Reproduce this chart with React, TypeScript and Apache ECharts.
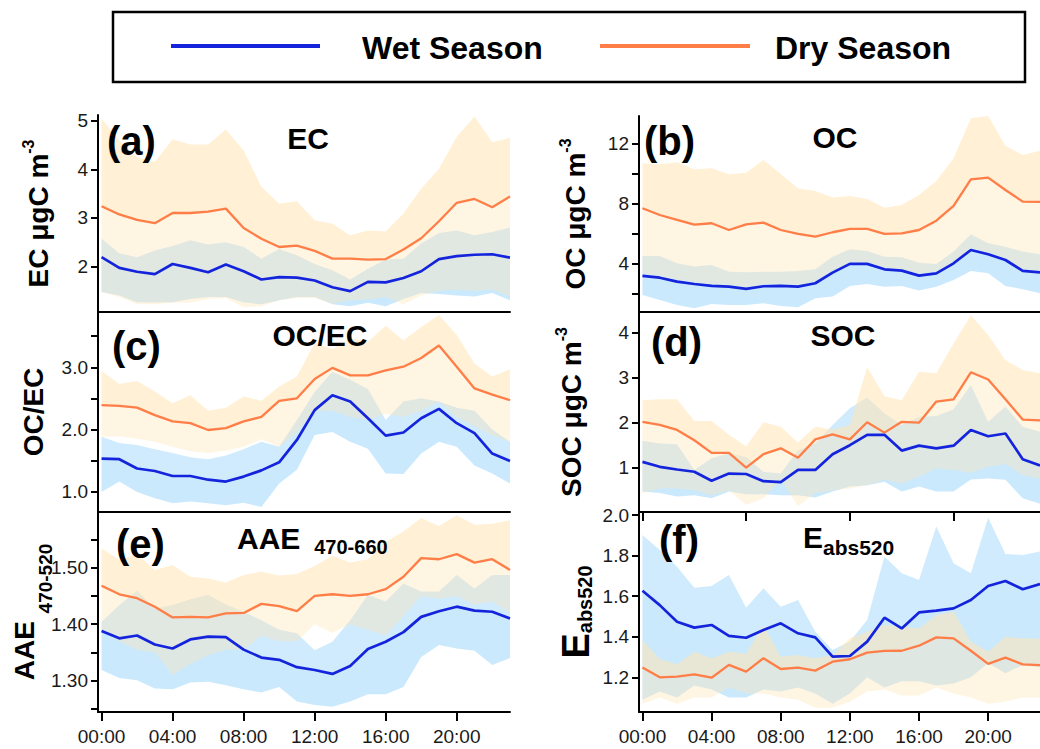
import React, { useEffect, useRef } from 'react';
import * as echarts from 'echarts';

// ---------- data ----------
const HOURS = [0, 1, 2, 3, 4, 5, 6, 7, 8, 9, 10, 11, 12, 13, 14, 15, 16, 17, 18, 19, 20, 21, 22, 23];
const X_LABEL_HOURS = [0, 4, 8, 12, 16, 20];

// (a) EC
const ecWet = [2.19, 1.97, 1.89, 1.84, 2.05, 1.97, 1.88, 2.04, 1.90, 1.73, 1.78, 1.77, 1.71, 1.57, 1.49, 1.68, 1.67, 1.76, 1.90, 2.15, 2.21, 2.24, 2.25, 2.18];
const ecWetHi = [2.57, 2.27, 2.19, 2.33, 2.42, 2.54, 2.45, 2.50, 2.40, 2.16, 2.36, 2.23, 2.05, 1.92, 1.73, 1.95, 2.14, 2.16, 2.47, 2.69, 2.74, 2.64, 2.71, 2.80];
const ecWetLo = [1.47, 1.40, 1.26, 1.26, 1.26, 1.33, 1.37, 1.37, 1.26, 1.22, 1.30, 1.37, 1.37, 1.22, 1.18, 1.25, 1.18, 1.33, 1.45, 1.43, 1.40, 1.38, 1.45, 1.30];
const ecDry = [3.24, 3.07, 2.96, 2.89, 3.10, 3.10, 3.13, 3.19, 2.79, 2.57, 2.40, 2.43, 2.32, 2.16, 2.16, 2.14, 2.15, 2.35, 2.58, 2.93, 3.31, 3.39, 3.22, 3.44];
const ecDryHi = [5.05, 4.60, 4.25, 4.15, 4.62, 4.51, 4.51, 4.82, 4.39, 3.64, 3.29, 3.34, 2.95, 2.88, 2.64, 2.74, 2.72, 3.09, 3.60, 4.01, 4.67, 5.09, 4.56, 4.65];
const ecDryLo = [1.47, 1.37, 1.22, 1.22, 1.25, 1.25, 1.33, 1.35, 1.16, 1.18, 1.30, 1.35, 1.35, 1.23, 1.30, 1.32, 1.37, 1.22, 1.40, 1.50, 1.52, 1.50, 1.52, 1.38];

// (b) OC
const ocWet = [3.16, 3.04, 2.78, 2.62, 2.49, 2.44, 2.29, 2.47, 2.49, 2.44, 2.67, 3.38, 3.96, 3.96, 3.60, 3.51, 3.18, 3.33, 4.00, 4.89, 4.60, 4.22, 3.49, 3.40];
const ocWetHi = [4.49, 4.49, 4.00, 3.78, 3.89, 3.44, 3.40, 3.44, 3.44, 3.49, 3.60, 4.44, 4.93, 4.82, 4.44, 4.40, 4.04, 3.96, 4.78, 5.93, 5.33, 5.11, 4.78, 4.60];
const ocWetLo = [1.89, 1.56, 1.22, 1.00, 1.29, 1.22, 1.22, 1.33, 1.16, 1.07, 1.67, 1.78, 2.49, 2.62, 2.44, 2.49, 2.18, 2.44, 2.89, 3.49, 3.33, 2.49, 2.27, 2.00];
const ocDry = [7.67, 7.22, 6.89, 6.58, 6.67, 6.22, 6.60, 6.71, 6.22, 5.96, 5.78, 6.07, 6.29, 6.29, 5.96, 6.00, 6.22, 6.84, 7.82, 9.60, 9.71, 8.89, 8.11, 8.10];
const ocDryHi = [10.67, 10.60, 10.73, 10.27, 10.33, 9.93, 10.04, 10.89, 9.96, 9.00, 8.82, 8.38, 8.49, 8.29, 7.71, 7.89, 8.56, 9.49, 11.00, 13.67, 13.82, 11.84, 11.22, 11.50];
const ocDryLo = [3.30, 3.15, 2.90, 2.75, 2.60, 2.55, 2.40, 2.60, 2.60, 2.55, 2.80, 3.50, 4.05, 4.05, 3.70, 3.60, 3.30, 3.45, 4.10, 5.00, 4.70, 4.35, 3.60, 3.50];

// (c) OC/EC
const ratioWet = [1.53, 1.52, 1.37, 1.33, 1.25, 1.25, 1.19, 1.16, 1.24, 1.34, 1.47, 1.83, 2.31, 2.55, 2.45, 2.18, 1.90, 1.95, 2.18, 2.33, 2.10, 1.94, 1.61, 1.49];
const ratioWetHi = [1.88, 1.78, 1.75, 1.68, 1.62, 1.55, 1.52, 1.58, 1.68, 1.80, 1.72, 2.15, 2.60, 2.93, 2.80, 2.65, 2.15, 2.45, 2.50, 2.45, 2.35, 2.30, 2.00, 1.80];
const ratioWetLo = [0.99, 1.16, 0.99, 0.89, 0.81, 0.84, 0.81, 0.78, 0.82, 0.75, 1.13, 1.35, 1.91, 1.96, 1.80, 1.69, 1.29, 1.28, 1.61, 1.80, 1.72, 1.42, 1.29, 1.13];
const ratioDry = [2.39, 2.38, 2.35, 2.23, 2.13, 2.10, 1.99, 2.02, 2.13, 2.20, 2.46, 2.50, 2.81, 2.99, 2.87, 2.87, 2.95, 3.01, 3.15, 3.35, 3.01, 2.66, 2.56, 2.47];
const ratioDryHi = [2.94, 2.73, 2.78, 2.61, 2.42, 2.55, 2.30, 2.35, 2.53, 2.46, 2.69, 2.85, 3.39, 3.29, 3.47, 3.41, 3.67, 3.43, 3.65, 3.84, 3.52, 3.06, 2.85, 2.97];
const ratioDryLo = [1.88, 1.89, 1.85, 1.80, 1.72, 1.65, 1.62, 1.66, 1.72, 1.84, 1.72, 1.95, 2.30, 2.30, 2.20, 2.15, 2.25, 2.20, 2.30, 2.45, 2.20, 2.05, 1.90, 1.80];

// (d) SOC
const socWet = [1.13, 1.02, 0.96, 0.91, 0.71, 0.87, 0.86, 0.70, 0.68, 0.95, 0.95, 1.30, 1.50, 1.73, 1.73, 1.38, 1.49, 1.43, 1.49, 1.84, 1.70, 1.76, 1.19, 1.05];
const socWetHi = [1.60, 1.54, 1.52, 0.95, 1.21, 1.32, 1.24, 0.91, 0.87, 1.39, 1.54, 1.95, 2.32, 2.56, 2.21, 1.95, 2.13, 2.15, 2.30, 2.84, 2.02, 2.36, 1.91, 1.80];
const socWetLo = [0.47, 0.44, 0.36, 0.39, 0.32, 0.47, 0.41, 0.41, 0.39, 0.39, 0.34, 0.47, 0.58, 0.61, 0.69, 0.47, 0.58, 0.47, 0.47, 0.74, 0.76, 0.73, 0.32, 0.20];
const socDry = [2.02, 1.95, 1.84, 1.61, 1.33, 1.33, 1.00, 1.30, 1.43, 1.22, 1.63, 1.74, 1.63, 2.01, 1.78, 2.02, 2.00, 2.47, 2.52, 3.12, 2.96, 2.52, 2.07, 2.05];
const socDryHi = [2.50, 2.52, 2.52, 2.04, 2.04, 1.73, 1.47, 2.01, 1.91, 1.56, 1.91, 1.85, 1.95, 3.23, 2.59, 2.50, 3.13, 3.10, 3.76, 4.39, 3.95, 3.39, 3.17, 3.10];
const socDryLo = [0.44, 0.54, 0.54, 0.50, 0.39, 0.50, 0.17, 0.32, 0.73, 0.15, 0.43, 0.50, 0.54, 0.61, 0.73, 0.65, 0.80, 0.99, 0.95, 0.89, 1.02, 1.08, 0.84, 0.75];

// (e) AAE 470-660
const aaeWet = [1.388, 1.375, 1.380, 1.364, 1.357, 1.373, 1.378, 1.377, 1.355, 1.341, 1.337, 1.324, 1.319, 1.312, 1.326, 1.356, 1.369, 1.386, 1.413, 1.423, 1.431, 1.424, 1.422, 1.410];
const aaeWetHi = [1.404, 1.434, 1.459, 1.428, 1.434, 1.444, 1.452, 1.435, 1.422, 1.407, 1.390, 1.384, 1.354, 1.369, 1.407, 1.452, 1.440, 1.472, 1.458, 1.458, 1.487, 1.463, 1.487, 1.487];
const aaeWetLo = [1.319, 1.305, 1.301, 1.286, 1.285, 1.297, 1.298, 1.292, 1.285, 1.279, 1.289, 1.263, 1.257, 1.254, 1.263, 1.276, 1.276, 1.289, 1.342, 1.363, 1.357, 1.353, 1.328, 1.340];
const aaeDry = [1.468, 1.453, 1.446, 1.431, 1.412, 1.413, 1.412, 1.419, 1.420, 1.436, 1.432, 1.423, 1.450, 1.453, 1.450, 1.453, 1.462, 1.484, 1.517, 1.515, 1.524, 1.509, 1.515, 1.496];
const aaeDryHi = [1.534, 1.514, 1.524, 1.496, 1.505, 1.484, 1.481, 1.474, 1.487, 1.493, 1.486, 1.489, 1.503, 1.521, 1.509, 1.515, 1.546, 1.564, 1.588, 1.574, 1.593, 1.576, 1.578, 1.584];
const aaeDryLo = [1.390, 1.370, 1.355, 1.350, 1.310, 1.330, 1.345, 1.355, 1.355, 1.380, 1.370, 1.370, 1.400, 1.385, 1.400, 1.390, 1.380, 1.415, 1.450, 1.445, 1.450, 1.435, 1.440, 1.420];

// (f) Eabs520
const eabsWet = [1.627, 1.556, 1.474, 1.445, 1.458, 1.404, 1.395, 1.433, 1.466, 1.417, 1.397, 1.302, 1.305, 1.376, 1.494, 1.441, 1.520, 1.529, 1.540, 1.581, 1.650, 1.675, 1.634, 1.660];
const eabsWetHi = [1.901, 1.828, 1.745, 1.642, 1.650, 1.704, 1.543, 1.639, 1.548, 1.581, 1.425, 1.335, 1.376, 1.483, 1.795, 1.713, 1.680, 1.943, 1.762, 1.713, 1.987, 1.808, 1.803, 1.820];
const eabsWetLo = [1.09, 1.13, 1.10, 1.16, 1.14, 1.10, 1.10, 1.14, 1.13, 1.15, 1.12, 1.07, 1.12, 1.20, 1.15, 1.18, 1.18, 1.16, 1.17, 1.20, 1.27, 1.22, 1.26, 1.25];
const eabsDry = [1.248, 1.200, 1.203, 1.215, 1.198, 1.261, 1.228, 1.294, 1.241, 1.248, 1.233, 1.277, 1.289, 1.322, 1.330, 1.331, 1.356, 1.397, 1.392, 1.331, 1.266, 1.297, 1.264, 1.260];
const eabsDryHi = [1.384, 1.290, 1.264, 1.326, 1.294, 1.326, 1.318, 1.458, 1.302, 1.310, 1.294, 1.310, 1.392, 1.425, 1.458, 1.450, 1.441, 1.507, 1.524, 1.376, 1.326, 1.400, 1.392, 1.390];
const eabsDryLo = [1.07, 1.10, 1.07, 1.10, 1.10, 1.15, 1.12, 1.12, 1.10, 1.09, 1.05, 1.05, 1.08, 1.13, 1.14, 1.11, 1.11, 1.15, 1.12, 1.10, 1.07, 1.08, 1.10, 1.10];

// tick values
const aTicks = [2, 3, 4, 5];
const bTicks = [2, 4, 6, 8, 10, 12];
const bLabels = [4, 8, 12];
const cTicks = [1.0, 1.5, 2.0, 2.5, 3.0, 3.5];
const cLabels = [1.0, 2.0, 3.0];
const dTicks = [1, 2, 3, 4];
const eTicks = [1.25, 1.30, 1.35, 1.40, 1.45, 1.50, 1.55];
const eLabels = [1.30, 1.40, 1.50];
const fTicks = [1.2, 1.4, 1.6, 1.8, 2.0];
const dXTicks = [0, 6, 12, 18];

const SERIES_NAMES = ['Wet Season', 'Dry Season'];

// ---------- styles ----------
const FONT = "'Liberation Sans', Arial, Helvetica, sans-serif";
const WET = '#1424dc';
const DRY = '#ff7d46';
const WET_BAND_LO = 'rgba(135,206,250,0.44)';
const WET_BAND_HI = 'rgba(135,206,250,0.40)';
const DRY_BAND_LO = 'rgba(255,228,181,0.38)';
const DRY_BAND_HI = 'rgba(255,228,181,0.56)';

const B = { fontWeight: 'bold', fontFamily: FONT, color: '#000' };
const supRich = {
  m: { ...B, fontSize: 28, lineHeight: 32, verticalAlign: 'bottom' },
  sup: { ...B, fontSize: 16, lineHeight: 18, verticalAlign: 'top' },
};

const PANELS = [
  { left: 98, top: 115, height: 197, ymin: 1.06, ymax: 5.12, ticks: aTicks, labels: aTicks, dec: 0, xTicks: [], bottom: false,
    name: '{m|EC μgC m}{sup|-3}', gap: 46, rich: supRich,
    wet: ecWet, wetHi: ecWetHi, wetLo: ecWetLo, dry: ecDry, dryHi: ecDryHi, dryLo: ecDryLo },
  { left: 639, top: 116, height: 196, ymin: 0.753, ymax: 13.82, ticks: bTicks, labels: bLabels, dec: 0, xTicks: [], bottom: false,
    name: '{m|OC μgC m}{sup|-3}', gap: 50, rich: supRich,
    wet: ocWet, wetHi: ocWetHi, wetLo: ocWetLo, dry: ocDry, dryHi: ocDryHi, dryLo: ocDryLo },
  { left: 98, top: 312, height: 200, ymin: 0.67, ymax: 3.89, ticks: cTicks, labels: cLabels, dec: 1, xTicks: [], bottom: false,
    name: '{m|OC/EC}', gap: 51, rich: supRich,
    wet: ratioWet, wetHi: ratioWetHi, wetLo: ratioWetLo, dry: ratioDry, dryHi: ratioDryHi, dryLo: ratioDryLo },
  { left: 639, top: 312, height: 200, ymin: 0.016, ymax: 4.46, ticks: dTicks, labels: dTicks, dec: 0, xTicks: dXTicks, bottom: false,
    name: '{m|SOC μgC m}{sup|-3}', gap: 54, rich: supRich,
    wet: socWet, wetHi: socWetHi, wetLo: socWetLo, dry: socDry, dryHi: socDryHi, dryLo: socDryLo },
  { left: 98, top: 512, height: 200, ymin: 1.2446, ymax: 1.5986, ticks: eTicks, labels: eLabels, dec: 2, xTicks: X_LABEL_HOURS, bottom: true,
    name: '{m|AAE }{sub|470-520}', gap: 43,
    rich: {
      m: { ...B, fontSize: 28, lineHeight: 45, verticalAlign: 'top' },
      sub: { ...B, fontSize: 19, lineHeight: 20, verticalAlign: 'bottom' },
    },
    wet: aaeWet, wetHi: aaeWetHi, wetLo: aaeWetLo, dry: aaeDry, dryHi: aaeDryHi, dryLo: aaeDryLo },
  { left: 639, top: 512, height: 200, ymin: 1.029, ymax: 2.015, ticks: fTicks, labels: fTicks, dec: 1, xTicks: X_LABEL_HOURS, bottom: true,
    name: '{m|E}{sub|abs520}', gap: 44,
    rich: {
      m: { ...B, fontSize: 38, lineHeight: 42, verticalAlign: 'bottom' },
      sub: { ...B, fontSize: 20, lineHeight: 22, verticalAlign: 'bottom' },
    },
    wet: eabsWet, wetHi: eabsWetHi, wetLo: eabsWetLo, dry: eabsDry, dryHi: eabsDryHi, dryLo: eabsDryLo },
];

const hh = (v: number) => (v < 10 ? '0' : '') + v + ':00';

function bandSeries(i: number, lo: number[], hi: number[], fill: string, z: number) {
  return {
    type: 'custom', xAxisIndex: i, yAxisIndex: i, silent: true, clip: true, z,
    data: HOURS.map((h, k) => [h, lo[k], hi[k]]),
    encode: { x: 0, y: [1, 2] },
    renderItem: (params: any, api: any) => {
      if (params.dataIndex !== 0) return null;
      const upper = HOURS.map((h, k) => api.coord([h, hi[k]]));
      const lower = HOURS.map((h, k) => api.coord([h, lo[k]])).reverse();
      return { type: 'polygon', shape: { points: upper.concat(lower) }, style: { fill, stroke: 'none' } };
    },
  };
}

function buildOption() {
  const grid: any[] = [];
  const xAxis: any[] = [];
  const yAxis: any[] = [];
  const series: any[] = [];
  const axisLine = { show: true, onZero: false, lineStyle: { color: '#000', width: 2 } };

  PANELS.forEach((p, i) => {
    grid.push({ left: p.left, top: p.top, width: 412, height: p.height, containLabel: false });
    xAxis.push({
      gridIndex: i, type: 'value', min: -0.2, max: 23,
      axisLine,
      axisTick: { show: p.xTicks.length > 0, customValues: p.xTicks, length: 9, inside: false, lineStyle: { color: '#000', width: 2 } },
      axisLabel: {
        show: p.bottom, customValues: X_LABEL_HOURS, formatter: (v: number) => hh(v),
        fontSize: 19, fontFamily: FONT, color: '#1a1a1a', margin: 15,
      },
      splitLine: { show: false },
    });
    yAxis.push({
      gridIndex: i, type: 'value', min: p.ymin, max: p.ymax,
      axisLine,
      axisTick: { show: true, customValues: p.ticks, length: 7, inside: false, lineStyle: { color: '#000', width: 2 } },
      axisLabel: {
        show: true, customValues: p.labels, formatter: (v: number) => v.toFixed(p.dec),
        fontSize: 19, fontFamily: FONT, color: '#1a1a1a', margin: 10,
      },
      splitLine: { show: false },
      name: p.name, nameLocation: 'middle', nameGap: p.gap, nameRotate: 90, nameMoveOverlap: false,
      nameTextStyle: { rich: p.rich, fontFamily: FONT, fontWeight: 'bold', fontSize: 28, color: '#000' },
    });

    const pts = (arr: number[]) => HOURS.map((h, k) => [h, arr[k]]);
    series.push(bandSeries(i, p.wetLo, p.wet, WET_BAND_LO, 1));
    series.push(bandSeries(i, p.wet, p.wetHi, WET_BAND_HI, 1));
    series.push(bandSeries(i, p.dryLo, p.dry, DRY_BAND_LO, 2));
    series.push(bandSeries(i, p.dry, p.dryHi, DRY_BAND_HI, 2));
    const common = { type: 'line', xAxisIndex: i, yAxisIndex: i, symbol: 'none', silent: true, animation: false, clip: true };
    series.push({ ...common, name: SERIES_NAMES[1], data: pts(p.dry), lineStyle: { color: DRY, width: 2.3 }, z: 4 });
    series.push({ ...common, name: SERIES_NAMES[0], data: pts(p.wet), lineStyle: { color: WET, width: 2.7 }, z: 5 });
  });

  const txt = (text: string, x: number, y: number, size: number, align = 'left', rich?: any) => ({
    type: 'text', x, y, silent: true, z: 100,
    style: {
      text, fill: '#000', fontSize: size, fontWeight: 'bold', fontFamily: FONT,
      align, textAlign: align, verticalAlign: 'middle', textVerticalAlign: 'middle', rich,
    },
  });

  const titleRich = (mSize: number, sSize: number, L: number) => ({
    m: { ...B, fontSize: mSize, lineHeight: L, verticalAlign: 'top' },
    s: { ...B, fontSize: sSize, lineHeight: sSize + 2, verticalAlign: 'bottom' },
  });

  const graphic = [
    { type: 'rect', shape: { x: 113, y: 12, width: 912, height: 70 }, style: { fill: 'none', stroke: '#000', lineWidth: 2.5 }, silent: true },
    { type: 'line', shape: { x1: 171, y1: 46, x2: 320, y2: 46 }, style: { stroke: WET, lineWidth: 4 }, silent: true },
    { type: 'line', shape: { x1: 600, y1: 46, x2: 750, y2: 46 }, style: { stroke: DRY, lineWidth: 4 }, silent: true },
    txt(SERIES_NAMES[0], 362, 48, 32),
    txt(SERIES_NAMES[1], 775, 48, 32),
    txt('(a)', 107, 141, 40),
    txt('(b)', 644, 141, 40),
    txt('(c)', 112, 346, 40),
    txt('(d)', 651, 342, 40),
    txt('(e)', 116, 544, 40),
    txt('(f)', 659, 540, 40),
    txt('EC', 308, 138, 30, 'center'),
    txt('OC', 835, 137, 30, 'center'),
    txt('OC/EC', 320, 335, 30, 'center'),
    txt('SOC', 843, 335, 30, 'center'),
    txt('{m|AAE }{s| 470-660}', 237, 540, 30, 'left', titleRich(30, 20, 34)),
    txt('{m|E}{s|abs520}', 803, 540, 30, 'left', titleRich(30, 21, 36)),
  ];

  return {
    animation: false,
    backgroundColor: '#ffffff',
    grid, xAxis, yAxis, series, graphic,
  };
}

export default function App() {
  const ref = useRef<HTMLDivElement>(null);
  useEffect(() => {
    if (!ref.current) return;
    const chart = echarts.init(ref.current, null, { renderer: 'svg' });
    chart.setOption(buildOption() as any);
    return () => chart.dispose();
  }, []);
  return (
    <div
      ref={ref}
      style={{ position: 'absolute', left: 0, top: 0, width: 1040, height: 749, overflow: 'hidden', background: '#fff' }}
    />
  );
}
